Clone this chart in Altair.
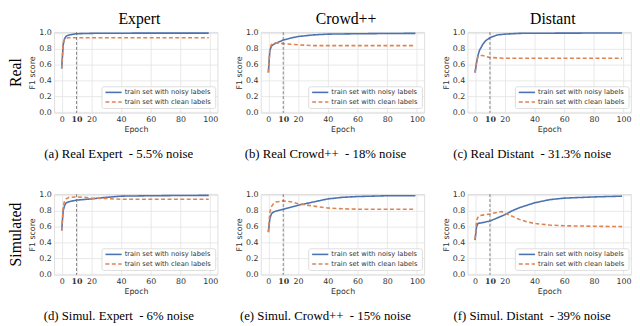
import altair as alt
import pandas as pd

SERIES = ["train set with noisy labels", "train set with clean labels"]
COLORS = ["#4C72B0", "#DD8452"]
X_TICKS = [0, 10, 20, 40, 60, 80, 100]
Y_TICKS = [0.0, 0.2, 0.4, 0.6, 0.8, 1.0]

COL_TITLES = ["Expert", "Crowd++", "Distant"]
ROW_LABELS = ["Real", "Simulated"]
CAPTIONS = [
    "(a) Real Expert\u00a0 - 5.5% noise",
    "(b) Real Crowd++\u00a0 - 18% noise",
    "(c) Real Distant\u00a0 - 31.3% noise",
    "(d) Simul. Expert\u00a0 - 6% noise",
    "(e) Simul. Crowd++\u00a0 - 15% noise",
    "(f) Simul. Distant\u00a0 - 39% noise",
]

# (a) Real Expert
a_noisy_x = [0, 1, 2, 3, 5, 10, 20, 40, 60, 80, 99]
a_noisy_y = [0.55, 0.85, 0.93, 0.96, 0.975, 0.99, 0.995, 0.997, 0.998, 0.998, 0.998]
a_clean_x = [0, 1, 2, 3, 5, 10, 20, 40, 60, 80, 99]
a_clean_y = [0.55, 0.88, 0.92, 0.935, 0.94, 0.94, 0.94, 0.94, 0.94, 0.94, 0.94]

# (b) Real Crowd++
b_noisy_x = [0, 1, 2, 3, 5, 10, 15, 20, 30, 40, 60, 80, 99]
b_noisy_y = [0.5, 0.78, 0.83, 0.85, 0.87, 0.91, 0.935, 0.955, 0.975, 0.985, 0.99, 0.993, 0.995]
b_clean_x = [0, 1, 2, 3, 5, 8, 10, 20, 30, 40, 60, 80, 99]
b_clean_y = [0.5, 0.8, 0.85, 0.865, 0.875, 0.87, 0.865, 0.85, 0.84, 0.84, 0.84, 0.84, 0.84]

# (c) Real Distant
c_noisy_x = [0, 1, 2, 3, 5, 7, 10, 15, 20, 30, 60, 99]
c_noisy_y = [0.5, 0.62, 0.72, 0.78, 0.85, 0.9, 0.94, 0.975, 0.985, 0.995, 0.998, 0.999]
c_clean_x = [0, 1, 2, 3, 5, 8, 10, 20, 40, 60, 80, 99]
c_clean_y = [0.5, 0.65, 0.7, 0.715, 0.715, 0.7, 0.69, 0.68, 0.68, 0.68, 0.68, 0.68]

# (d) Simulated Expert
d_noisy_x = [0, 1, 2, 3, 5, 10, 20, 30, 40, 60, 80, 99]
d_noisy_y = [0.55, 0.8, 0.87, 0.9, 0.915, 0.935, 0.95, 0.97, 0.985, 0.99, 0.993, 0.995]
d_clean_x = [0, 1, 2, 3, 5, 10, 15, 20, 30, 40, 60, 80, 99]
d_clean_y = [0.55, 0.85, 0.93, 0.95, 0.97, 0.975, 0.97, 0.96, 0.955, 0.945, 0.945, 0.945, 0.945]

# (e) Simulated Crowd++
e_noisy_x = [0, 1, 2, 3, 5, 10, 15, 20, 30, 40, 50, 60, 80, 99]
e_noisy_y = [0.53, 0.7, 0.76, 0.78, 0.795, 0.82, 0.845, 0.87, 0.91, 0.95, 0.97, 0.98, 0.99, 0.99]
e_clean_x = [0, 1, 2, 3, 5, 10, 15, 20, 30, 40, 50, 60, 80, 99]
e_clean_y = [0.53, 0.78, 0.85, 0.88, 0.91, 0.925, 0.915, 0.89, 0.86, 0.835, 0.825, 0.82, 0.82, 0.82]

# (f) Simulated Distant
f_noisy_x = [0, 1, 2, 5, 10, 15, 20, 25, 30, 40, 50, 60, 80, 99]
f_noisy_y = [0.43, 0.6, 0.64, 0.65, 0.67, 0.71, 0.75, 0.8, 0.84, 0.9, 0.94, 0.96, 0.975, 0.985]
f_clean_x = [0, 1, 2, 3, 5, 7, 10, 15, 18, 20, 25, 30, 35, 40, 50, 60, 80, 99]
f_clean_y = [0.44, 0.68, 0.72, 0.74, 0.745, 0.75, 0.76, 0.78, 0.79, 0.77, 0.73, 0.69, 0.66, 0.64, 0.62, 0.61, 0.605, 0.6]

PANELS = [
    (a_noisy_x, a_noisy_y, a_clean_x, a_clean_y),
    (b_noisy_x, b_noisy_y, b_clean_x, b_clean_y),
    (c_noisy_x, c_noisy_y, c_clean_x, c_clean_y),
    (d_noisy_x, d_noisy_y, d_clean_x, d_clean_y),
    (e_noisy_x, e_noisy_y, e_clean_x, e_clean_y),
    (f_noisy_x, f_noisy_y, f_clean_x, f_clean_y),
]

W, H = 166, 82
SERIF = "Liberation Serif"
SANS = "DejaVu Sans"
TXT = "#333333"
LW = 1.6

X_AXIS = alt.Axis(
    values=X_TICKS,
    title="Epoch",
    labelOverlap=False,
    labelFlush=False,
    labelFont={"condition": {"test": "datum.value == 10", "value": "DejaVu Serif"}, "value": SANS},
    labelFontWeight={"condition": {"test": "datum.value == 10", "value": "bold"}, "value": "normal"},
)
Y_AXIS = alt.Axis(values=Y_TICKS, format=".1f", title="F1 score", labelOverlap=False)


def one():
    return alt.Data(values=[{"k": 0}])


def panel(i):
    nx, ny, cx, cy = PANELS[i]
    rows = [{"epoch": x, "f1": y, "series": SERIES[0]} for x, y in zip(nx, ny)]
    rows += [{"epoch": x, "f1": y, "series": SERIES[1]} for x, y in zip(cx, cy)]
    df = pd.DataFrame(rows)
    xscale = alt.Scale(domain=[-5, 105], nice=False, zero=False)

    lines = alt.Chart(df).mark_line(strokeWidth=LW).encode(
        x=alt.X("epoch:Q", scale=xscale, axis=X_AXIS),
        y=alt.Y(
            "f1:Q",
            scale=alt.Scale(domain=[-0.01, 1.01], nice=False, zero=False),
            axis=Y_AXIS,
        ),
        color=alt.Color("series:N", scale=alt.Scale(domain=SERIES, range=COLORS), legend=None),
        strokeDash=alt.StrokeDash(
            "series:N", scale=alt.Scale(domain=SERIES, range=[[1, 0], [4, 2.5]]), legend=None
        ),
    )

    vline = alt.Chart(pd.DataFrame({"epoch": [10]})).mark_rule(
        color="#666666", strokeDash=[3, 2], strokeWidth=0.8
    ).encode(x=alt.X("epoch:Q", scale=xscale, axis=X_AXIS))

    box = alt.Chart(one()).mark_rect(
        fill="white", stroke="#cfcfcf", strokeWidth=0.7, cornerRadius=2
    ).encode(x=alt.value(48.5), x2=alt.value(W - 2), y=alt.value(55.5), y2=alt.value(77.5))
    l1 = alt.Chart(one()).mark_rule(color=COLORS[0], strokeWidth=LW).encode(
        x=alt.value(52), x2=alt.value(68.5), y=alt.value(61.2)
    )
    l2 = alt.Chart(one()).mark_rule(color=COLORS[1], strokeWidth=LW, strokeDash=[4, 2.5]).encode(
        x=alt.value(52), x2=alt.value(68.5), y=alt.value(71)
    )
    t1 = alt.Chart(one()).mark_text(
        text=SERIES[0], align="left", baseline="middle", font=SANS, fontSize=6.8, color=TXT
    ).encode(x=alt.value(71.5), y=alt.value(61.2))
    t2 = alt.Chart(one()).mark_text(
        text=SERIES[1], align="left", baseline="middle", font=SANS, fontSize=6.8, color=TXT
    ).encode(x=alt.value(71.5), y=alt.value(71))

    cap = alt.Chart(one()).mark_text(
        text=CAPTIONS[i], align="center", baseline="alphabetic", font=SERIF, fontSize=13, color="black"
    ).encode(x=alt.value(W / 2 - 17.5), y=alt.value(H + 46))

    layers = [lines, vline, box, l1, l2, t1, t2, cap]

    if i < 3:
        layers.append(
            alt.Chart(one()).mark_text(
                text=COL_TITLES[i], align="center", baseline="top", font=SERIF, fontSize=16, color="black"
            ).encode(x=alt.value(W / 2 + 3.5), y=alt.value(-21.6))
        )
    if i % 3 == 0:
        layers.append(
            alt.Chart(one()).mark_text(
                text=ROW_LABELS[i // 3], angle=270, align="center", baseline="top",
                font=SERIF, fontSize=16, color="black"
            ).encode(x=alt.value(-46.3), y=alt.value(H / 2))
        )

    return alt.layer(*layers).properties(width=W, height=H)


chart = alt.concat(
    *[panel(i) for i in range(6)],
    columns=3,
    spacing={"row": 82.6, "column": 44},
    bounds="flush",
    padding=0,
).configure_axis(
    labelFont=SANS,
    labelFontSize=8,
    labelColor=TXT,
    labelOverlap=False,
    titleFont=SANS,
    titleFontSize=8,
    titleFontWeight="normal",
    titleColor=TXT,
    gridColor="#e3e3e3",
    gridWidth=0.8,
    domain=False,
    ticks=False,
    labelPadding=3,
    titlePadding=2,
).configure_view(
    stroke="#d6d6d6", strokeWidth=0.8
)

chart.save("out.html", embed_options={"renderer": "svg", "actions": False})
